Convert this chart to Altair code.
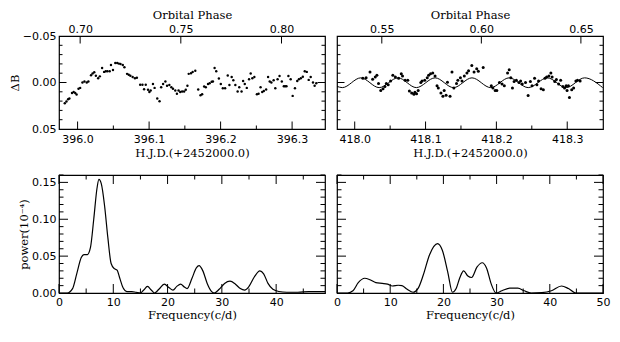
import altair as alt
import pandas as pd

# ---------------- data ----------------
tl_hjd = [395.9821, 395.9844, 395.9867, 395.9885, 395.9922, 395.9945, 395.9967, 395.9986,
          396.0013, 396.0036, 396.0068, 396.0096, 396.0128, 396.0151, 396.0188, 396.0210,
          396.0233, 396.0256, 396.0288, 396.0311, 396.0343, 396.0371, 396.0394, 396.0417,
          396.0449, 396.0467, 396.0495, 396.0527, 396.0554, 396.0577, 396.0600, 396.0632,
          396.0655, 396.0692, 396.0715, 396.0738, 396.0770, 396.0802, 396.0829, 396.0875,
          396.0907, 396.0930, 396.0953, 396.0985, 396.1004, 396.1022, 396.1054, 396.1077,
          396.1114, 396.1146, 396.1169, 396.1196, 396.1228, 396.1251, 396.1283, 396.1311,
          396.1334, 396.1366, 396.1389, 396.1412, 396.1435, 396.1462, 396.1490, 396.1513,
          396.1536, 396.1554, 396.1586, 396.1609, 396.1646, 396.1687, 396.1719, 396.1742,
          396.1770, 396.1793, 396.1824, 396.1847, 396.1875, 396.1893, 396.1916, 396.1939,
          396.1976, 396.2003, 396.2031, 396.2063, 396.2100, 396.2123, 396.2155, 396.2178,
          396.2206, 396.2238, 396.2261, 396.2293, 396.2315, 396.2338, 396.2366, 396.2398,
          396.2421, 396.2444, 396.2472, 396.2508, 396.2531, 396.2559, 396.2582, 396.2605,
          396.2637, 396.2664, 396.2687, 396.2710, 396.2742, 396.2765, 396.2797, 396.2824,
          396.2856, 396.2884, 396.2902, 396.2921, 396.2948, 396.2980, 396.3008, 396.3040,
          396.3072, 396.3095, 396.3122, 396.3150, 396.3177, 396.3205, 396.3232, 396.3260,
          396.3292, 396.3315, 396.3338]
tl_db = [0.0223, 0.0205, 0.0181, 0.0171, 0.0113, 0.0103, 0.0113, 0.0130,
         0.0068, 0.0058, 0.0000, -0.0011, 0.0000, -0.0011, -0.0079, -0.0096,
         -0.0110, -0.0072, -0.0045, -0.0066, -0.0155, -0.0114, -0.0120, -0.0120,
         -0.0120, -0.0189, -0.0134, -0.0210, -0.0210, -0.0203, -0.0199, -0.0189,
         -0.0165, -0.0093, -0.0083, -0.0072, -0.0059, -0.0045, -0.0052, 0.0024,
         0.0024, 0.0072, 0.0024, 0.0079, 0.0103, 0.0085, 0.0017, 0.0058,
         0.0171, 0.0202, 0.0051, 0.0017, -0.0011, 0.0034, 0.0027, 0.0051,
         0.0068, 0.0085, 0.0120, 0.0085, 0.0103, 0.0096, 0.0096, 0.0079,
         0.0034, -0.0093, -0.0100, -0.0114, -0.0127, 0.0075, 0.0137, 0.0127,
         0.0044, 0.0051, 0.0017, 0.0007, -0.0007, -0.0011, -0.0155, -0.0120,
         -0.0042, 0.0017, 0.0061, 0.0061, -0.0076, 0.0027, -0.0059, -0.0024,
         0.0027, 0.0096, 0.0051, 0.0096, -0.0017, 0.0017, 0.0058, -0.0035,
         -0.0096, -0.0045, -0.0059, 0.0127, 0.0120, 0.0051, 0.0103, 0.0092,
         0.0075, -0.0059, -0.0011, 0.0000, -0.0024, 0.0061, -0.0035, -0.0069,
         -0.0011, 0.0041, 0.0041, 0.0041, -0.0069, -0.0035, 0.0144, 0.0061,
         -0.0017, -0.0035, -0.0045, -0.0062, -0.0120, -0.0114, -0.0028, -0.0059,
         0.0000, 0.0034, 0.0007]

tr_hjd = [418.0115, 418.0161, 418.0216, 418.0253, 418.0290, 418.0313, 418.0336, 418.0368,
          418.0400, 418.0427, 418.0446, 418.0473, 418.0506, 418.0538, 418.0574, 418.0620,
          418.0657, 418.0675, 418.0712, 418.0749, 418.0772, 418.0804, 418.0836, 418.0850,
          418.0873, 418.0896, 418.0933, 418.0951, 418.0988, 418.1024, 418.1043, 418.1070,
          418.1102, 418.1134, 418.1162, 418.1180, 418.1217, 418.1245, 418.1263, 418.1290,
          418.1309, 418.1346, 418.1373, 418.1400, 418.1437, 418.1456, 418.1492, 418.1515,
          418.1547, 418.1584, 418.1607, 418.1653, 418.1685, 418.1722, 418.1745, 418.1814,
          418.1928, 418.1951, 418.1983, 418.2006, 418.2043, 418.2080, 418.2112, 418.2158,
          418.2181, 418.2204, 418.2227, 418.2250, 418.2282, 418.2319, 418.2342, 418.2365,
          418.2411, 418.2448, 418.2480, 418.2503, 418.2539, 418.2572, 418.2595, 418.2631,
          418.2663, 418.2686, 418.2709, 418.2741, 418.2769, 418.2787, 418.2824, 418.2847,
          418.2879, 418.2907, 418.2939, 418.2962, 418.2985, 418.2998, 418.3017, 418.3031,
          418.3063, 418.3090, 418.3122, 418.3145, 418.3182]
tr_db = [-0.0045, -0.0052, -0.0114, -0.0035, -0.0059, -0.0079, 0.0010, 0.0085,
         0.0068, 0.0044, 0.0010, 0.0024, -0.0017, -0.0079, -0.0059, -0.0045,
         -0.0093, -0.0069, -0.0024, -0.0024, 0.0092, 0.0113, 0.0127, 0.0106,
         0.0120, 0.0085, 0.0000, -0.0017, -0.0024, -0.0052, -0.0079, -0.0093,
         -0.0103, -0.0069, 0.0034, 0.0058, 0.0113, 0.0147, 0.0085, 0.0137,
         -0.0004, 0.0147, -0.0114, 0.0058, 0.0010, -0.0024, -0.0052, -0.0017,
         -0.0069, -0.0103, -0.0127, -0.0182, -0.0114, -0.0148, -0.0120, -0.0162,
         0.0034, 0.0058, 0.0085, 0.0085, 0.0000, 0.0017, 0.0034, -0.0103,
         -0.0137, -0.0052, 0.0058, -0.0011, -0.0024, 0.0000, -0.0017, 0.0017,
         0.0000, 0.0141, -0.0011, 0.0034, -0.0045, 0.0024, -0.0017, 0.0068,
         0.0079, -0.0045, -0.0059, -0.0069, -0.0103, -0.0059, -0.0011, -0.0031,
         0.0017, -0.0024, 0.0044, 0.0058, 0.0034, 0.0085, 0.0034, 0.0161,
         0.0079, 0.0058, -0.0017, -0.0024, -0.0017]

# fitted sinusoid: its turning points
fit_hjd = [417.9745, 417.9825, 418.0085, 418.0345, 418.0612, 418.0870, 418.1135, 418.1395,
           418.1655, 418.1920, 418.2180, 418.2450, 418.2720, 418.2985, 418.3245, 418.3500]
fit_db = [0.0040, 0.0055, -0.0050, 0.0055, -0.0050, 0.0055, -0.0050, 0.0055,
          -0.0050, 0.0055, -0.0050, 0.0055, -0.0050, 0.0055, -0.0050, 0.0055]

pl_freq = [0, 1.5, 2.5, 3.3, 4.1, 4.6, 5.2, 5.8, 6.4, 7.0, 7.35, 7.8, 8.4, 9.0, 9.6, 10.2,
           10.7, 11.2, 11.8, 12.5, 13.4, 14.2, 15.0, 15.6, 16.3, 17.0, 17.6, 18.4, 19.4, 20.3,
           21.0, 21.7, 22.4, 23.1, 23.6, 24.5, 25.3, 25.8, 26.5, 27.3, 28.0, 28.6, 29.5, 30.5,
           31.5, 32.5, 33.4, 34.2, 35.0, 36.0, 37.0, 37.7, 38.5, 39.4, 40.5, 42.0, 44.0, 46.0, 49.0]
pl_pow = [0, 0, 0.006, 0.027, 0.048, 0.052, 0.052, 0.062, 0.100, 0.142, 0.154, 0.148, 0.118,
          0.075, 0.040, 0.033, 0.031, 0.020, 0.007, 0.002, 0.002, 0.001, 0.000, 0.004, 0.009,
          0.004, 0.000, 0.005, 0.012, 0.007, 0.004, 0.009, 0.012, 0.008, 0.006, 0.020, 0.034,
          0.037, 0.030, 0.013, 0.003, 0.000, 0.005, 0.013, 0.016, 0.012, 0.006, 0.004, 0.009,
          0.022, 0.030, 0.026, 0.013, 0.005, 0.002, 0.001, 0.001, 0.002, 0.002]

pr_freq = [0, 2.0, 3.0, 4.0, 5.2, 6.2, 7.3, 8.5, 9.5, 10.4, 11.5, 12.2, 13.2, 14.3, 15.3, 16.2,
           17.4, 18.9, 19.8, 20.8, 21.7, 22.4, 23.1, 23.8, 24.6, 25.3, 26.3, 27.3, 28.1, 29.0,
           29.9, 31.0, 32.5, 34.0, 35.2, 36.5, 38.5, 40.3, 42.2, 43.5, 44.9, 50.0]
pr_pow = [0, 0, 0.003, 0.014, 0.020, 0.018, 0.014, 0.013, 0.012, 0.0095, 0.0105, 0.010, 0.005,
          0.001, 0.007, 0.024, 0.052, 0.067, 0.058, 0.029, 0.001, 0.006, 0.021, 0.030, 0.023,
          0.021, 0.035, 0.041, 0.034, 0.012, 0.000, 0.003, 0.0065, 0.0065, 0.003, 0.000, 0.0005,
          0.003, 0.0095, 0.006, 0.000, 0]

# tick values
tl_major = [396.0, 396.1, 396.2, 396.3]
tl_minor = [396.05, 396.15, 396.25]
tl_phase = [0.70, 0.75, 0.80]
tr_major = [418.0, 418.1, 418.2, 418.3]
tr_minor = [418.05, 418.15, 418.25]
tr_phase = [0.55, 0.60, 0.65]
db_major = [0.0]
db_minor = [-0.04, -0.03, -0.02, -0.01, 0.01, 0.02, 0.03, 0.04]
db_labels = [-0.05, 0.0, 0.05]
fl_major = [0, 10, 20, 30, 40]
fr_major = [0, 10, 20, 30, 40, 50]
f_minor = [5, 15, 25, 35, 45]
p_major = [0.05, 0.10, 0.15]
p_minor = [0.01, 0.02, 0.03, 0.04, 0.06, 0.07, 0.08, 0.09, 0.11, 0.12, 0.13, 0.14, 0.16]
p_labels = [0.0, 0.05, 0.10, 0.15]

# ---------------- layout ----------------
W = 266
H1 = 93
H2 = 118
LMAJ1, LMIN1 = 7.5, 3.5
LMAJ2, LMIN2 = 9, 4.5
LF = "DejaVu Sans"
TF = "DejaVu Serif"


def xticks(values, scale, side, length, H, axis):
    y0, y1 = (H, H - length) if side == "bottom" else (0, length)
    return alt.Chart(pd.DataFrame({"v": values})).mark_rule(color="black", strokeWidth=1).encode(
        x=alt.X("v:Q", scale=scale, axis=axis), y=alt.value(y0), y2=alt.value(y1))


def yticks(values, scale, side, length, axis):
    x0, x1 = (0, length) if side == "left" else (W, W - length)
    return alt.Chart(pd.DataFrame({"v": values})).mark_rule(color="black", strokeWidth=1).encode(
        y=alt.Y("v:Q", scale=scale, axis=axis), x=alt.value(x0), x2=alt.value(x1))


def yframe(scale, major, minor, lmaj, lmin, axis):
    return [yticks(major, scale, "left", lmaj, axis), yticks(minor, scale, "left", lmin, axis),
            yticks(major, scale, "right", lmaj, axis), yticks(minor, scale, "right", lmin, axis)]


def light_panel(hjd, db, xdom, pdom, major, minor, phase, left, size, fit=None):
    xs = alt.Scale(domain=xdom, nice=False, zero=False)
    ps = alt.Scale(domain=pdom, nice=False, zero=False)
    ys = alt.Scale(domain=[-0.05, 0.05], reverse=True, nice=False, zero=False)
    xax = alt.Axis(values=major, format=".1f", title="H.J.D.(+2452000.0)")
    if left:
        yax = alt.Axis(values=db_labels, format=".2f", title="ΔB", labelPadding=3, titlePadding=2)
    else:
        yax = None
    pts = alt.Chart(pd.DataFrame({"hjd": hjd, "db": db})).mark_circle(
        size=size, color="black", opacity=1).encode(
        x=alt.X("hjd:Q", scale=xs, axis=xax),
        y=alt.Y("db:Q", scale=ys, axis=yax))
    layers = [pts]
    if fit is not None:
        layers.append(alt.Chart(pd.DataFrame({"hjd": fit[0], "db": fit[1]})).mark_line(
            color="black", strokeWidth=1, interpolate="monotone", clip=True).encode(
            x=alt.X("hjd:Q", scale=xs, axis=None), y=alt.Y("db:Q", scale=ys, axis=yax)))
    layers += [xticks(major, xs, "bottom", LMAJ1, H1, None),
               xticks(minor, xs, "bottom", LMIN1, H1, None)]
    layers += yframe(ys, db_major, db_minor, LMAJ1, LMIN1, yax)
    layers.append(xticks(phase, ps, "top", LMAJ1, H1,
                         alt.Axis(orient="top", values=phase, format=".2f",
                                  title="Orbital Phase", labelPadding=2, titlePadding=3)))
    return alt.layer(*layers).resolve_scale(x="independent").properties(width=W, height=H1)


def power_panel(freq, pw, xmax, left, major):
    xs = alt.Scale(domain=[0, xmax], nice=False, zero=False)
    ys = alt.Scale(domain=[0, 0.16], nice=False, zero=False)
    if left:
        yax = alt.Axis(values=p_labels, format=".2f", title="power(10⁻⁴)",
                       labelPadding=3, titlePadding=2)
    else:
        yax = None
    xax = alt.Axis(values=major, format="d", title="Frequency(c/d)", labelPadding=3, titlePadding=2)
    line = alt.Chart(pd.DataFrame({"f": freq, "p": pw})).mark_line(
        color="black", strokeWidth=1.2, interpolate="monotone").encode(
        x=alt.X("f:Q", scale=xs, axis=xax),
        y=alt.Y("p:Q", scale=ys, axis=yax))
    layers = [line]
    for side in ("bottom", "top"):
        layers.append(xticks(major, xs, side, LMAJ2, H2, xax))
        layers.append(xticks(f_minor, xs, side, LMIN2, H2, xax))
    layers += yframe(ys, p_major, p_minor, LMAJ2, LMIN2, yax)
    return alt.layer(*layers).properties(width=W, height=H2)


tl = light_panel(tl_hjd, tl_db, [395.974, 396.346], [0.6895, 0.8216], tl_major, tl_minor,
                 tl_phase, True, 6)
tr = light_panel(tr_hjd, tr_db, [417.975, 418.3505], [0.5275, 0.6611], tr_major, tr_minor,
                 tr_phase, False, 9, fit=(fit_hjd, fit_db))
bl = power_panel(pl_freq, pl_pow, 49, True, fl_major)
br = power_panel(pr_freq, pr_pow, 50, False, fr_major)

chart = alt.concat(tl, tr, bl, br, columns=2,
                   spacing={"row": 46, "column": 12}, bounds="flush").properties(
    padding={"left": 0, "top": 0, "right": 0, "bottom": 0}
).configure_view(stroke="black", strokeWidth=1.2).configure_axis(
    grid=False, ticks=False, domain=False, labelFlush=False, labelOverlap=False,
    labelFont=LF, labelFontSize=11, labelColor="black", labelPadding=4,
    titleFont=TF, titleFontSize=11.5, titleFontWeight="normal", titleColor="black",
    titlePadding=3
)

chart.save("out.html", embed_options={"renderer": "svg", "actions": False})
